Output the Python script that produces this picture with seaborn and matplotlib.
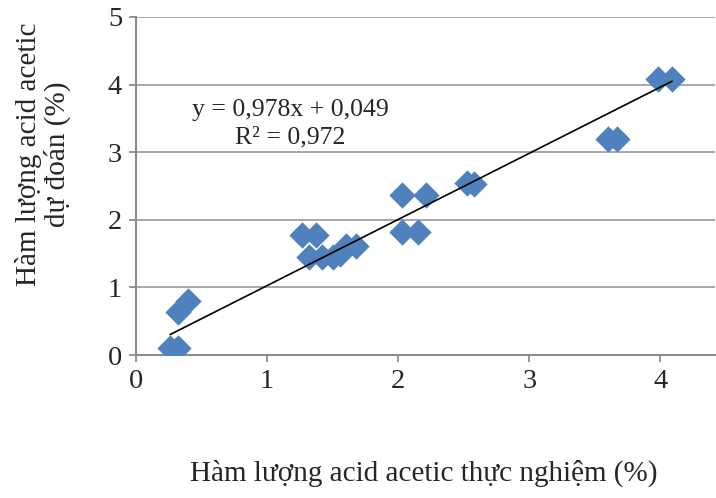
import numpy as np
import pandas as pd
import matplotlib
matplotlib.use("Agg")
import matplotlib.pyplot as plt
import seaborn as sns

# === Datos ===
x_thuc_nghiem = [0.26, 0.32, 0.32, 0.40, 1.265, 1.375, 1.32, 1.42, 1.50, 1.56,
                 1.60, 1.68, 2.03, 2.21, 2.03, 2.15, 2.525, 2.58, 3.60, 3.67,
                 3.98, 4.09]
y_du_doan = [0.10, 0.10, 0.63, 0.80, 1.775, 1.775, 1.45, 1.45, 1.45, 1.50,
             1.62, 1.62, 2.37, 2.37, 1.82, 1.82, 2.54, 2.53, 3.19, 3.19,
             4.08, 4.08]
slope, intercept = 0.978, 0.049
eq_text = "y = 0,978x + 0,049\nR² = 0,972"
x_ticks = [0, 1, 2, 3, 4]
y_ticks = [0, 1, 2, 3, 4, 5]

df = pd.DataFrame({"x": x_thuc_nghiem, "y": y_du_doan})
xs = np.array([min(x_thuc_nghiem), max(x_thuc_nghiem)])
df_line = pd.DataFrame({"x": xs, "y": slope * xs + intercept})

sns.set_style("white")
plt.rcParams["font.family"] = ["Liberation Serif", "DejaVu Serif"]

fig = plt.figure(figsize=(7.16, 4.98), dpi=100)
ax = fig.add_axes([0.19, 0.287, 0.809, 0.679])

sns.scatterplot(data=df, x="x", y="y", marker="D", s=180, color="#4F81BD",
                edgecolor="#4F81BD", linewidth=0, ax=ax, zorder=3)
sns.lineplot(data=df_line, x="x", y="y", color="black", linewidth=1.2, ax=ax, zorder=4)

ax.set_xlim(0, 4.42)
ax.set_ylim(0, 5)
ax.set_xticks(x_ticks)
ax.set_yticks(y_ticks)
ax.yaxis.grid(True, color="#a0a0a0", linewidth=1.3)
ax.set_axisbelow(True)
for side in ["top", "right"]:
    ax.spines[side].set_visible(False)
for side in ["left", "bottom"]:
    ax.spines[side].set_color("#8c8c8c")
    ax.spines[side].set_linewidth(1.5)
ax.tick_params(axis="both", labelsize=20.5, length=5, width=1.3, color="#8c8c8c",
               direction="out", left=True, bottom=True, pad=5)

ax.text(1.18, 3.42, eq_text, ha="center", va="center", fontsize=18.5,
        linespacing=1.3, zorder=5)

ax.set_xlabel("Hàm lượng acid acetic thực nghiệm (%)", fontsize=21)
ax.set_ylabel("Hàm lượng acid acetic\ndự đoán (%)", fontsize=21, linespacing=1.1)
ax.xaxis.set_label_coords(0.496, -0.31)
ax.yaxis.set_label_coords(-0.112, 0.595)

fig.savefig("out.png", dpi=100)
plt.close(fig)
